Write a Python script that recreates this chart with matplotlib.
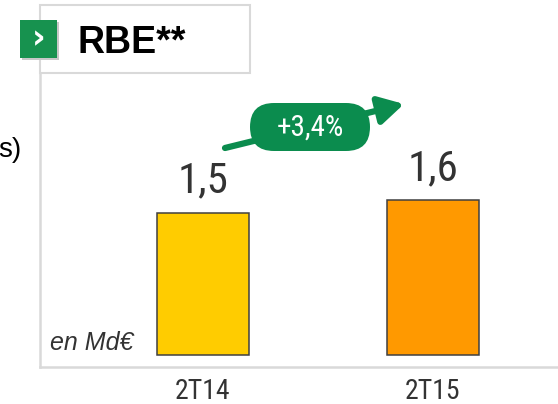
import matplotlib

matplotlib.use("Agg")
import matplotlib.pyplot as plt
from matplotlib import font_manager
from matplotlib.patches import Rectangle, FancyBboxPatch, FancyArrowPatch

# données
periods = ["2T14", "2T15"]
rbe_values = [1.5, 1.63]
bar_colors = ["#FFCC00", "#FF9900"]
growth_label = "+3,4%"
unit_label = "en Md€"
title = "RBE**"

GREEN = "#0B8C4E"
GRAY = "#D9D9D9"
TEXT = "#333333"
SANS = ["Liberation Sans", "DejaVu Sans"]

# police étroite : Roboto Condensed si présente, sinon DejaVu Sans Condensed
_names = {f.name for f in font_manager.fontManager.ttflist}
if "Roboto Condensed" in _names:
    NARROW = dict(fontfamily=["Roboto Condensed", "DejaVu Sans"])
else:
    NARROW = dict(fontfamily=["DejaVu Sans"], fontstretch="condensed")

W, H = 558, 404
fig = plt.figure(figsize=(W / 100, H / 100), dpi=100)
inch = fig.dpi_scale_trans


def px(x, y):
    """pixels (origine en haut à gauche) -> pouces"""
    return x / 100, (H - y) / 100


# axes: x 40..558 px, y 5..367 px
ax = fig.add_axes([40 / W, 1 - 367 / H, (558 - 40) / W, (367 - 5) / H])
ax.patch.set_alpha(0)
xs = list(range(len(periods)))
ax.bar(xs, rbe_values, width=0.4, color=bar_colors, edgecolor="#404040", linewidth=1.1, zorder=3)
ax.set_xlim(-0.7087, 1.5435)
ax.set_ylim(-0.126, 3.684)
ax.set_yticks([])
ax.set_xticks(xs, periods)
for lab in ax.get_xticklabels():
    lab.set(fontsize=20, color=TEXT, **NARROW)
ax.tick_params(axis="x", length=0, pad=8)
for side in ["top", "right"]:
    ax.spines[side].set_visible(False)
for side in ["left", "bottom"]:
    ax.spines[side].set_color(GRAY)
    ax.spines[side].set_linewidth(1.8)

for x, v in zip(xs, rbe_values):
    ax.annotate(
        f"{v:.1f}".replace(".", ","),
        (x, v),
        xytext=(0, 14.5),
        textcoords="offset points",
        ha="center",
        va="baseline",
        fontsize=31,
        color=TEXT,
        **NARROW,
    )

ax.text(10 / 518, 24 / 362, unit_label, transform=ax.transAxes, style="italic",
        fontfamily=SANS, fontsize=18, color=TEXT, ha="left", va="center")

# cadre du titre
x0, y0 = px(40, 73)
fig.patches.append(Rectangle((x0, y0), 2.10, 0.68, transform=inch, facecolor="white",
                             edgecolor=GRAY, linewidth=1.5, zorder=2))
# carré vert avec chevron
sx, sy = px(20, 58)
fig.patches.append(Rectangle((sx + 0.02, sy - 0.02), 0.37, 0.38, transform=inch,
                             facecolor="#C8C8C8", edgecolor="none", zorder=3))
fig.patches.append(Rectangle((sx, sy), 0.37, 0.38, transform=inch,
                             facecolor="#17924F", edgecolor="none", zorder=4))
cx, cy = px(38.5, 39)
fig.text(cx, cy, "›", transform=inch, color="white", fontsize=24, fontweight="bold",
         ha="center", va="center", fontfamily=["DejaVu Sans"], zorder=5)
tx, ty = px(78, 53)
fig.text(tx, ty, title, transform=inch, fontsize=27, fontweight="bold", color="black",
         fontfamily=SANS, ha="left", va="baseline", zorder=5)

# flèche de croissance
fig.patches.append(FancyArrowPatch(px(225, 148), px(404, 104), transform=inch,
                                   arrowstyle="-|>,head_length=0.75,head_width=0.42",
                                   mutation_scale=20, linewidth=4.5, color=GREEN,
                                   shrinkA=0, shrinkB=0, zorder=3))
bx, by = px(250, 151)
fig.patches.append(FancyBboxPatch((bx, by), 1.20, 0.48, transform=inch,
                                  boxstyle="round,pad=0,rounding_size=0.24",
                                  facecolor=GREEN, edgecolor="none", zorder=4))
gx, gy = px(310, 128)
fig.text(gx, gy, growth_label, transform=inch, color="white", fontsize=21,
         ha="center", va="center", zorder=5, **NARROW)

# texte coupé du panneau voisin
lx, ly = px(21, 150)
fig.text(lx, ly, "s)", transform=inch, fontsize=20, color="black", fontfamily=SANS,
         ha="right", va="center")

fig.savefig("out.png", dpi=100)
